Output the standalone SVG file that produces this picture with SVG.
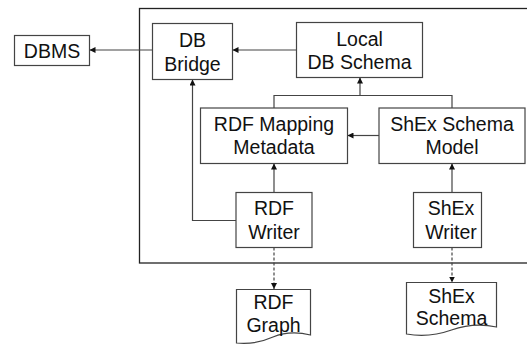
<svg xmlns="http://www.w3.org/2000/svg" width="527" height="344" viewBox="0 0 527 344">
<defs>
<style>
.box{fill:#fff;stroke:#444;stroke-width:1.2}
.outer{fill:none;stroke:#222;stroke-width:1.3}
.ln{fill:none;stroke:#444;stroke-width:1.2}
.dash{fill:none;stroke:#444;stroke-width:1.2;stroke-dasharray:3 2}
text{font-family:"Liberation Sans",Arial,sans-serif;font-size:19.5px;fill:#111;text-anchor:middle}
</style>
<marker id="ah" viewBox="0 0 10 10" refX="10" refY="5" markerWidth="6" markerHeight="6" markerUnits="userSpaceOnUse" orient="auto">
<path d="M0,0 L10,5 L0,10 Z" fill="#111"/>
</marker>
</defs>
<rect class="outer" x="139.5" y="8.5" width="400" height="254.5"/>
<g id="connectors">
<path class="ln" d="M152,50 L89.5,50" marker-end="url(#ah)"/>
<path class="ln" d="M296,50 L232.5,50" marker-end="url(#ah)"/>
<path class="ln" d="M274,108 L274,95.5 L452,95.5 L452,108"/>
<path class="ln" d="M360,95.5 L360,77.5" marker-end="url(#ah)"/>
<path class="ln" d="M379,135.5 L347.5,135.5" marker-end="url(#ah)"/>
<path class="ln" d="M274,192 L274,163.5" marker-end="url(#ah)"/>
<path class="ln" d="M452,192 L452,163.5" marker-end="url(#ah)"/>
<path class="ln" d="M236,220.5 L192.5,220.5 L192.5,79.5" marker-end="url(#ah)"/>
<path class="dash" d="M274,247.5 L274,289" marker-end="url(#ah)"/>
<path class="dash" d="M452,247.5 L452,282.5" marker-end="url(#ah)"/>
</g>
<g id="dbms">
<rect class="box" x="14.5" y="35.5" width="75" height="30"/>
<text x="52" y="57.5">DBMS</text>
</g>
<g id="db-bridge">
<rect class="box" x="152.5" y="23.5" width="80" height="56"/>
<text x="192.5" y="47">DB</text>
<text x="192.5" y="70.5">Bridge</text>
</g>
<g id="local-db-schema">
<rect class="box" x="296.5" y="22.5" width="126" height="55"/>
<text x="359.5" y="45.5">Local</text>
<text x="359.5" y="68.5">DB Schema</text>
</g>
<g id="rdf-mapping-metadata">
<rect class="box" x="200.5" y="108" width="147" height="55.5"/>
<text x="274" y="131">RDF Mapping</text>
<text x="274" y="153.5">Metadata</text>
</g>
<g id="shex-schema-model">
<rect class="box" x="379" y="108" width="146" height="55.5"/>
<text x="452" y="131">ShEx Schema</text>
<text x="452" y="153.5">Model</text>
</g>
<g id="rdf-writer">
<rect class="box" x="236" y="192.5" width="76" height="55"/>
<text x="274" y="215">RDF</text>
<text x="274" y="238.5">Writer</text>
</g>
<g id="shex-writer">
<rect class="box" x="413.5" y="192.5" width="68" height="55"/>
<text x="451" y="215">ShEx</text>
<text x="451" y="238.5">Writer</text>
</g>
<g id="rdf-graph">
<path class="box" d="M236.5,289.5 L310.5,289.5 L310.5,335 Q290,330 273,337 Q255,345 236.5,343 Z"/>
<text x="273.5" y="308.5">RDF</text>
<text x="273.5" y="332">Graph</text>
</g>
<g id="shex-schema">
<path class="box" d="M406.5,282.5 L496.5,282.5 L496.5,327 Q474,322 451.5,330 Q429,338 406.5,334 Z"/>
<text x="451.5" y="303">ShEx</text>
<text x="451.5" y="325">Schema</text>
</g>
</svg>
